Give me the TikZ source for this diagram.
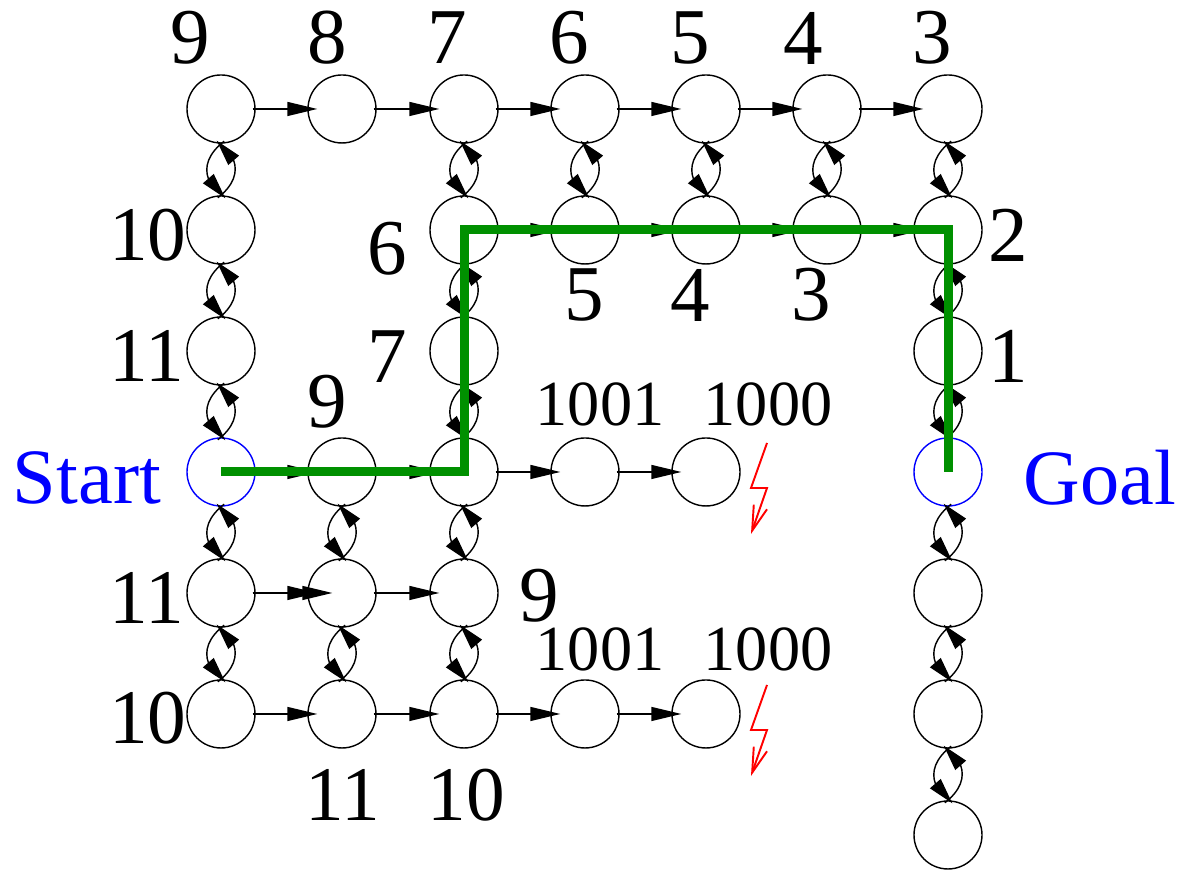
\documentclass[tikz,border=0pt]{standalone}
\usepackage{fontspec}
\setmainfont{Liberation Serif}
\usetikzlibrary{arrows.meta,bending}
\begin{document}
\begin{tikzpicture}[
      x=1cm, y=1cm,
      state/.style={draw, circle, line width=0.4pt, minimum size=0.68cm, inner sep=0pt},
      endstate/.style={state, draw=blue},
      hop/.style={line width=0.4pt, -{Triangle[length=0.30cm,width=0.14cm]},
                  shorten <=-0.03cm, shorten >=-0.10cm},
      hopdeep/.style={line width=0.4pt, -{Triangle[length=0.30cm,width=0.14cm]},
                  shorten <=-0.03cm, shorten >=-0.25cm},
      swing/.style={line width=0.4pt, -{Triangle[length=0.26cm,width=0.14cm]},
                  shorten <=-0.04cm, shorten >=-0.05cm, bend right=52, looseness=1.2},
      big/.style={font=\fontsize{22.5}{22.5}\selectfont},
      twin/.style={font=\fontsize{22}{22}\selectfont},
      small/.style={font=\fontsize{18.3}{18.3}\selectfont},
      word/.style={text=blue, font=\fontsize{22.3}{22.3}\selectfont},
      route/.style={draw={rgb,255:red,0;green,144;blue,0}, line width=0.09cm, miter limit=10},
      spark/.style={draw=red, line width=0.55pt, -{Straight Barb[length=0.25cm,width=0.14cm]}}
    ]
    \useasboundingbox (0,0) rectangle (11.83,8.70);

    % Row 1
    \node[state] (a1) at (2.21,7.61) {};
    \node[state] (a2) at (3.42,7.61) {};
    \node[state] (a3) at (4.64,7.61) {};
    \node[state] (a4) at (5.85,7.61) {};
    \node[state] (a5) at (7.06,7.61) {};
    \node[state] (a6) at (8.27,7.61) {};
    \node[state] (a7) at (9.48,7.61) {};

    % Row 2
    \node[state] (b1) at (2.21,6.40) {};
    \node[state] (b3) at (4.64,6.40) {};
    \node[state] (b4) at (5.85,6.40) {};
    \node[state] (b5) at (7.06,6.40) {};
    \node[state] (b6) at (8.27,6.40) {};
    \node[state] (b7) at (9.48,6.40) {};

    % Row 3
    \node[state] (c1) at (2.21,5.19) {};
    \node[state] (c3) at (4.64,5.19) {};
    \node[state] (c7) at (9.48,5.19) {};

    % Row 4, with start and goal
    \node[endstate] (start) at (2.21,3.98) {};
    \node[state] (d2) at (3.42,3.98) {};
    \node[state] (d3) at (4.64,3.98) {};
    \node[state] (d4) at (5.85,3.98) {};
    \node[state] (d5) at (7.06,3.98) {};
    \node[endstate] (goal) at (9.48,3.98) {};

    % Row 5
    \node[state] (e1) at (2.21,2.77) {};
    \node[state] (e2) at (3.42,2.77) {};
    \node[state] (e3) at (4.64,2.77) {};
    \node[state] (e7) at (9.48,2.77) {};

    % Row 6
    \node[state] (f1) at (2.21,1.56) {};
    \node[state] (f2) at (3.42,1.56) {};
    \node[state] (f3) at (4.64,1.56) {};
    \node[state] (f4) at (5.85,1.56) {};
    \node[state] (f5) at (7.06,1.56) {};
    \node[state] (f7) at (9.48,1.56) {};

    % Row 7
    \node[state] (g7) at (9.48,0.35) {};

    % Forward hops
    \draw[hop] (a1.east) -- (a2.west);
    \draw[hop] (a2.east) -- (a3.west);
    \draw[hop] (a3.east) -- (a4.west);
    \draw[hop] (a4.east) -- (a5.west);
    \draw[hop] (a5.east) -- (a6.west);
    \draw[hop] (a6.east) -- (a7.west);
    \draw[hop] (b3.east) -- (b4.west);
    \draw[hop] (b4.east) -- (b5.west);
    \draw[hop] (b5.east) -- (b6.west);
    \draw[hop] (b6.east) -- (b7.west);
    \draw[hop] (start.east) -- (d2.west);
    \draw[hop] (d2.east) -- (d3.west);
    \draw[hop] (d3.east) -- (d4.west);
    \draw[hop] (d4.east) -- (d5.west);
    \draw[hop] (e1.east) -- (e2.west);
    \draw[hopdeep] (e1.east) -- (e2.west);
    \draw[hop] (e2.east) -- (e3.west);
    \draw[hop] (f1.east) -- (f2.west);
    \draw[hop] (f2.east) -- (f3.west);
    \draw[hop] (f3.east) -- (f4.west);
    \draw[hop] (f4.east) -- (f5.west);

    % Column 1
    \draw[swing] (a1.south) to (b1.north);
    \draw[swing] (b1.north) to (a1.south);
    \draw[swing] (b1.south) to (c1.north);
    \draw[swing] (c1.north) to (b1.south);
    \draw[swing] (c1.south) to (start.north);
    \draw[swing] (start.north) to (c1.south);
    \draw[swing] (start.south) to (e1.north);
    \draw[swing] (e1.north) to (start.south);
    \draw[swing] (e1.south) to (f1.north);
    \draw[swing] (f1.north) to (e1.south);

    % Column 2
    \draw[swing] (d2.south) to (e2.north);
    \draw[swing] (e2.north) to (d2.south);
    \draw[swing] (e2.south) to (f2.north);
    \draw[swing] (f2.north) to (e2.south);

    % Column 3
    \draw[swing] (a3.south) to (b3.north);
    \draw[swing] (b3.north) to (a3.south);
    \draw[swing] (b3.south) to (c3.north);
    \draw[swing] (c3.north) to (b3.south);
    \draw[swing] (c3.south) to (d3.north);
    \draw[swing] (d3.north) to (c3.south);
    \draw[swing] (d3.south) to (e3.north);
    \draw[swing] (e3.north) to (d3.south);
    \draw[swing] (e3.south) to (f3.north);
    \draw[swing] (f3.north) to (e3.south);

    % Columns 4 to 6
    \draw[swing] (a4.south) to (b4.north);
    \draw[swing] (b4.north) to (a4.south);
    \draw[swing] (a5.south) to (b5.north);
    \draw[swing] (b5.north) to (a5.south);
    \draw[swing] (a6.south) to (b6.north);
    \draw[swing] (b6.north) to (a6.south);

    % Column 7
    \draw[swing] (a7.south) to (b7.north);
    \draw[swing] (b7.north) to (a7.south);
    \draw[swing] (b7.south) to (c7.north);
    \draw[swing] (c7.north) to (b7.south);
    \draw[swing] (c7.south) to (goal.north);
    \draw[swing] (goal.north) to (c7.south);
    \draw[swing] (goal.south) to (e7.north);
    \draw[swing] (e7.north) to (goal.south);
    \draw[swing] (e7.south) to (f7.north);
    \draw[swing] (f7.north) to (e7.south);
    \draw[swing] (f7.south) to (g7.north);
    \draw[swing] (g7.north) to (f7.south);

    % Shortest path
    \draw[route] (start.center) -| (b3.center) -- (b7.center) -- (goal.center);

    % Sparks at the dead ends
    \coordinate (sparkAa) at (7.67,8.70-4.43);
    \coordinate (sparkAb) at (7.51,8.70-4.88);
    \coordinate (sparkAc) at (7.67,8.70-4.88);
    \coordinate (sparkAd) at (7.51,8.70-5.34);
    \draw[spark] (sparkAa) -- (sparkAb) -- (sparkAc) -- (sparkAd);
    \coordinate (sparkBa) at (7.67,8.70-6.85);
    \coordinate (sparkBb) at (7.51,8.70-7.30);
    \coordinate (sparkBc) at (7.67,8.70-7.30);
    \coordinate (sparkBd) at (7.51,8.70-7.76);
    \draw[spark] (sparkBa) -- (sparkBb) -- (sparkBc) -- (sparkBd);

    % Costs, top row
    \node[big] (l9a) at (1.905,8.32) {9};
    \node[big] (l8a) at (3.27,8.32) {8};
    \node[big] (l7a) at (4.47,8.32) {7};
    \node[big] (l6a) at (5.69,8.32) {6};
    \node[big] (l5a) at (6.90,8.32) {5};
    \node[big] (l4a) at (8.03,8.32) {4};
    \node[big] (l3a) at (9.32,8.32) {3};

    % Costs, upper middle
    \node[twin] (l10a) at (1.48,6.35) {10};
    \node[big] (l6b) at (3.87,6.21) {6};
    \node[big] (l2a) at (10.08,6.35) {2};
    \node[big] (l5b) at (5.84,5.75) {5};
    \node[big] (l4b) at (6.90,5.75) {4};
    \node[big] (l3b) at (8.11,5.75) {3};
    \node[twin] (l11a) at (1.47,5.14) {11};
    \node[big] (l7b) at (3.87,5.13) {7};
    \node[big] (l1a) at (10.08,5.14) {1};
    \node[big] (l9b) at (3.27,4.68) {9};
    \node[small] (l1001a) at (6.00,4.66) {1001};
    \node[small] (l1000a) at (7.68,4.66) {1000};

    % Start and goal labels
    \node[word] (startlabel) at (0.87,3.92) {Start};
    \node[word] (goallabel) at (11.00,3.92) {Goal};

    % Costs, lower part
    \node[twin] (l11b) at (1.47,2.72) {11};
    \node[big] (l9c) at (5.39,2.74) {9};
    \node[small] (l1001b) at (6.00,2.21) {1001};
    \node[small] (l1000b) at (7.68,2.21) {1000};
    \node[twin] (l10b) at (1.48,1.52) {10};
    \node[twin] (l11c) at (3.43,0.75) {11};
    \node[twin] (l10c) at (4.66,0.75) {10};
  \end{tikzpicture}
\end{document}
